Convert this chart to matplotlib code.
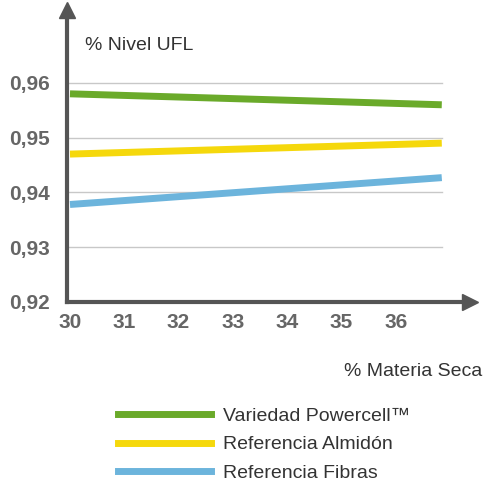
import matplotlib.pyplot as plt
from matplotlib.lines import Line2D

x_start, x_end = 30, 36.85
series_names = ["Variedad Powercell\u2122", "Referencia Almidón", "Referencia Fibras"]
series_start = [0.958, 0.947, 0.9378]
series_end = [0.956, 0.949, 0.9427]
colors = ["#6aaa2a", "#f5d80c", "#6cb4dc"]
yticks = [0.92, 0.93, 0.94, 0.95, 0.96]
ytick_labels = ["0,92", "0,93", "0,94", "0,95", "0,96"]
xticks = [30, 31, 32, 33, 34, 35, 36]

plt.rcParams['font.family'] = ['Liberation Sans', 'DejaVu Sans']
fig = plt.figure(figsize=(5.01, 5.0), dpi=100)
ax = fig.add_axes([67/501, 1-302/500, (470-67)/501, 292/500])
ax.set_xlim(29.945, 37.37)
ax.set_ylim(0.92, 0.9733)

for y in yticks[1:]:
    ax.plot([29.945, x_end], [y, y], color="#c8c8c8", lw=1, zorder=1)
for name, a, b, c in zip(series_names, series_start, series_end, colors):
    ax.plot([x_start, x_end], [a, b], color=c, lw=5, solid_capstyle="butt", zorder=3)

for s in ["top", "right"]:
    ax.spines[s].set_visible(False)
for s in ["left", "bottom"]:
    ax.spines[s].set_color("#555555")
    ax.spines[s].set_linewidth(3)
ax.plot(1, 0, ">", transform=ax.transAxes, color="#555555", ms=12, clip_on=False)
ax.plot(0, 1, "^", transform=ax.transAxes, color="#555555", ms=12, clip_on=False)

ax.set_yticks(yticks, ytick_labels)
ax.set_xticks(xticks)
ax.tick_params(axis="both", colors="#555555", labelsize=15, length=0, width=0)
ax.tick_params(axis="y", pad=12)
ax.tick_params(axis="x", pad=8)
for lab in ax.get_xticklabels() + ax.get_yticklabels():
    lab.set_fontweight("bold")
    lab.set_color("#666666")

fig.text(85/501, 1-45/500, "% Nivel UFL", fontsize=14, color="#333333", va="center")
fig.text(482/501, 1-372/500, "% Materia Seca", fontsize=14, color="#333333", va="center", ha="right")

handles = [Line2D([], [], color=c, lw=5) for c in colors]
fig.legend(handles, series_names, loc="upper left", bbox_to_anchor=(100/501, 1-390/500),
           frameon=False, fontsize=14, handlelength=4.8, labelspacing=0.55, handletextpad=0.65,
           labelcolor="#333333")

fig.savefig("out.png", dpi=100)
